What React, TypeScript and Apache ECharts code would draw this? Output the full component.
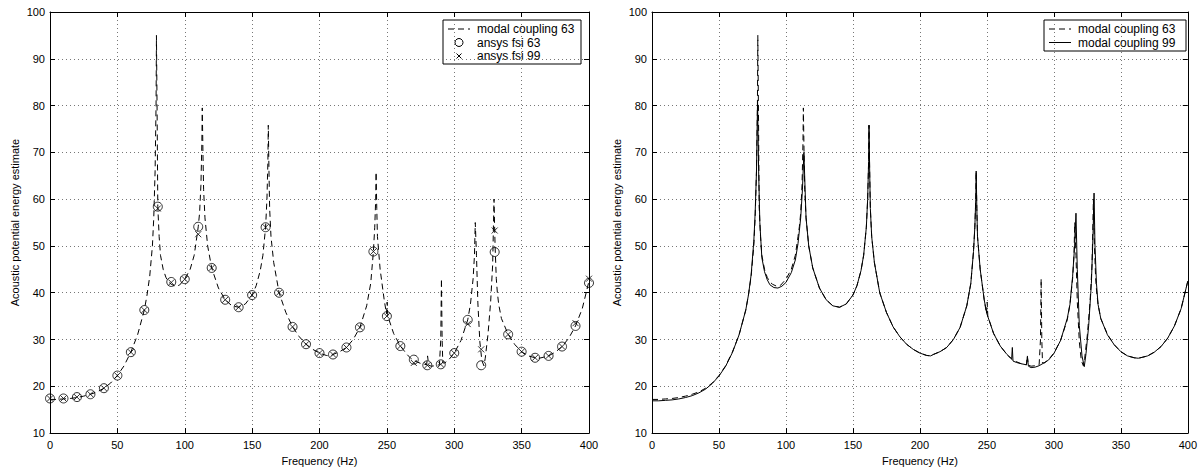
import React, { useEffect, useRef } from "react";
import * as echarts from "echarts";

// ---------- data ----------
const freqMarkers = [0, 10, 20, 30, 40, 50, 60, 70, 80, 90, 100, 110, 120, 130, 140, 150, 160, 170, 180, 190, 200, 210, 220, 230, 240, 250, 260, 270, 280, 290, 300, 310, 320, 330, 340, 350, 360, 370, 380, 390, 400];
const ansysFsi63 = [17.4, 17.4, 17.7, 18.3, 19.6, 22.3, 27.3, 36.3, 58.4, 42.3, 42.9, 54.1, 45.3, 38.5, 36.9, 39.5, 54.0, 40.0, 32.7, 29.0, 27.1, 26.8, 28.3, 32.6, 48.8, 35.0, 28.6, 25.7, 24.5, 24.7, 27.1, 34.2, 24.5, 48.7, 31.1, 27.4, 26.1, 26.5, 28.5, 32.9, 42.1];
const ansysFsi99 = [17.4, 17.4, 17.7, 18.3, 19.6, 22.3, 27.3, 36.3, 58.0, 42.2, 42.9, 52.5, 45.3, 38.5, 36.9, 39.5, 54.0, 40.0, 32.7, 29.0, 27.1, 26.8, 28.3, 32.6, 48.8, 35.0, 28.6, 25.0, 24.5, 24.7, 27.1, 33.3, 27.9, 53.3, 31.1, 27.4, 26.1, 26.5, 28.5, 33.5, 43.0];

const modal63Freq = [0, 5, 10, 15, 20, 25, 30, 35, 40, 45, 50, 55, 60, 65, 70, 72, 74, 76, 77, 78, 78.7, 79, 79.5, 80, 81, 82, 84, 86, 88, 90, 93, 96, 100, 104, 107, 109, 110, 111, 112, 112.7, 113, 113.5, 114, 115, 117, 120, 125, 130, 135, 140, 145, 150, 153, 156, 158, 160, 161, 161.7, 162, 162.5, 163, 164, 166, 170, 175, 180, 185, 190, 195, 200, 205, 208, 210, 215, 220, 225, 230, 235, 238, 240, 241, 241.7, 242, 242.5, 243, 245, 248, 249.7, 250.2, 250.7, 255, 260, 265, 268, 270, 275, 279.5, 280.2, 281, 283, 286, 289, 290, 290.5, 291, 291.5, 293, 296, 300, 305, 310, 312, 314, 315, 315.6, 316.5, 317.5, 319, 320.5, 322, 323, 325, 327, 328.5, 329.5, 330.3, 331.2, 332, 333, 335, 340, 345, 350, 355, 360, 363, 366, 370, 375, 380, 385, 390, 395, 400];
const modal63Val = [17.2, 17.2, 17.3, 17.4, 17.6, 17.9, 18.3, 18.8, 19.6, 20.7, 22.3, 24.4, 27.3, 31.0, 36.3, 39.5, 43.5, 50, 56, 66, 80, 95, 78, 58.4, 52, 48, 45, 43.3, 42.3, 41.8, 41.4, 41.6, 42.9, 45, 48, 52, 54.1, 57, 63, 72, 79.5, 70, 62, 56, 50, 45.3, 41, 38.5, 37.2, 36.9, 37.6, 39.5, 41.5, 44.7, 48, 54, 60, 68, 75.8, 66, 58, 52, 46.5, 40, 35.8, 32.7, 30.6, 29, 27.9, 27.1, 26.6, 26.5, 26.8, 27.4, 28.3, 30, 32.6, 37.2, 42, 48.8, 54, 60, 65.8, 58, 52, 45, 38.5, 35.5, 38, 35, 31.3, 28.6, 26.8, 25.9, 25.5, 24.9, 24.6, 26.5, 24.5, 24.3, 24.4, 24.6, 30, 43, 30, 25, 25, 25.7, 27.1, 29.8, 34.2, 37.5, 43, 48, 55, 48, 38, 29.5, 25.5, 24.4, 26, 31, 38, 46, 60, 50, 43, 40, 37.5, 34.5, 31.1, 28.9, 27.4, 26.5, 26.1, 26.0, 26.2, 26.5, 27.3, 28.5, 30.3, 32.9, 36.6, 42.5];

const modal99Freq = [0, 5, 10, 15, 20, 25, 30, 35, 40, 45, 50, 55, 60, 65, 70, 72, 74, 76, 77, 78, 78.8, 79.6, 80.5, 82, 84, 86, 88, 91, 94, 97, 100, 104, 107, 109, 111, 112.3, 113.4, 114.3, 115, 117, 120, 125, 130, 135, 140, 145, 150, 153, 156, 158, 160, 161, 161.7, 162, 162.5, 163, 164, 166, 170, 175, 180, 185, 190, 195, 200, 205, 208, 210, 215, 220, 225, 230, 235, 238, 240, 241, 241.7, 242, 242.5, 243, 245, 248, 250, 255, 260, 265, 268.5, 269, 269.5, 272, 276, 279.5, 280.2, 281, 283, 286, 289, 292, 296, 300, 305, 310, 312, 314, 315.5, 316.5, 317.5, 319, 321, 322.7, 324, 326, 328, 329.2, 330, 330.7, 331.8, 333, 335, 340, 345, 350, 355, 360, 363, 366, 370, 375, 380, 385, 390, 395, 400];
const modal99Val = [16.9, 16.9, 17.0, 17.1, 17.3, 17.6, 18.0, 18.6, 19.4, 20.6, 22.2, 24.3, 27.2, 31.0, 36.3, 39.5, 43.8, 51, 57, 66, 81, 66, 55, 47.5, 44.5, 42.8, 41.7, 41.1, 41.0, 41.4, 42.2, 44.3, 47, 50.5, 56, 62, 70, 62, 56, 50, 45.3, 41, 38.5, 37.2, 36.9, 37.6, 39.5, 41.5, 44.7, 48, 54, 60, 68, 75.8, 66, 58, 52, 46.5, 40, 35.8, 32.7, 30.6, 29, 27.9, 27.1, 26.6, 26.5, 26.8, 27.4, 28.3, 30, 32.6, 37.2, 42, 48.8, 54, 60, 66, 58, 52, 45, 38.5, 35.5, 31.3, 28.6, 26.8, 25.9, 28.3, 25.4, 25.1, 24.8, 24.6, 26.3, 24.3, 24.0, 24.1, 24.4, 24.9, 25.6, 27, 29.8, 34.5, 37.5, 43.5, 50, 57, 45, 33, 26.5, 24.2, 27, 33, 42, 52, 61.3, 50, 42, 37.5, 34.5, 31, 28.9, 27.4, 26.5, 26.1, 26.0, 26.2, 26.5, 27.3, 28.5, 30.3, 32.9, 36.6, 42.5];

const xTickStep = 50;
const yTickStep = 10;
const xMin = 0, xMax = 400, yMin = 10, yMax = 100;

const FONT = "Liberation Sans, Arial, Helvetica, sans-serif";

const zip = (a: number[], b: number[]) => a.map((v, i) => [v, b[i]]);

const grids = [
  { left: 50, top: 12, width: 539, height: 424 },
  { left: 652, top: 12, width: 538, height: 424 },
];

const CROSS = "path://M0,0L10,10M10,0L0,10";

function makeAxes() {
  const xAxis: any[] = [];
  const yAxis: any[] = [];
  grids.forEach((_, gi) => {
    xAxis.push({
      type: "value", gridIndex: gi, min: xMin, max: xMax, interval: xTickStep,
      position: "bottom",
      name: "Frequency (Hz)", nameLocation: "middle", nameGap: 19,
      nameTextStyle: { fontFamily: FONT, fontSize: 11, color: "#000" },
      axisLine: { show: true, onZero: false, lineStyle: { color: "#000", width: 1 } },
      axisTick: { show: true, inside: true, length: 5, lineStyle: { color: "#000" } },
      axisLabel: { fontFamily: FONT, fontSize: 11, color: "#000", margin: 6 },
      splitLine: { show: true, lineStyle: { color: "#777", width: 1, type: [1, 3] } },
    });
    xAxis.push({
      type: "value", gridIndex: gi, min: xMin, max: xMax, interval: xTickStep,
      position: "top",
      axisLine: { show: true, onZero: false, lineStyle: { color: "#000", width: 1 } },
      axisTick: { show: true, inside: true, length: 5, lineStyle: { color: "#000" } },
      axisLabel: { show: false },
      splitLine: { show: false },
    });
    yAxis.push({
      type: "value", gridIndex: gi, min: yMin, max: yMax, interval: yTickStep,
      position: "left",
      name: "Acoustic potential energy estimate", nameLocation: "middle", nameRotate: 90, nameGap: 30,
      nameTextStyle: { fontFamily: FONT, fontSize: 11, color: "#000" },
      axisLine: { show: true, onZero: false, lineStyle: { color: "#000", width: 1 } },
      axisTick: { show: true, inside: true, length: 5, lineStyle: { color: "#000" } },
      axisLabel: { fontFamily: FONT, fontSize: 11, color: "#000", margin: 5 },
      splitLine: { show: true, lineStyle: { color: "#777", width: 1, type: [1, 3] } },
    });
    yAxis.push({
      type: "value", gridIndex: gi, min: yMin, max: yMax, interval: yTickStep,
      position: "right",
      axisLine: { show: true, onZero: false, lineStyle: { color: "#000", width: 1 } },
      axisTick: { show: true, inside: true, length: 5, lineStyle: { color: "#000" } },
      axisLabel: { show: false },
      splitLine: { show: false },
    });
  });
  return { xAxis, yAxis };
}

function legendGraphic(x: number, y: number, w: number, h: number, rows: { label: string; kind: string }[]) {
  const children: any[] = [
    { type: "rect", shape: { x, y, width: w, height: h }, style: { fill: "#fff", stroke: "#000", lineWidth: 1 } },
  ];
  rows.forEach((r, i) => {
    const cy = y + 9 + i * 13.5;
    if (r.kind === "dash") {
      children.push({ type: "line", shape: { x1: x + 5, y1: cy, x2: x + 27, y2: cy }, style: { stroke: "#000", lineWidth: 1, lineDash: [6, 4] } });
    } else if (r.kind === "solid") {
      children.push({ type: "line", shape: { x1: x + 5, y1: cy, x2: x + 27, y2: cy }, style: { stroke: "#000", lineWidth: 1 } });
    } else if (r.kind === "circle") {
      children.push({ type: "circle", shape: { cx: x + 16, cy, r: 4 }, style: { fill: "none", stroke: "#000", lineWidth: 1 } });
    } else if (r.kind === "cross") {
      children.push({ type: "line", shape: { x1: x + 13.5, y1: cy - 2.5, x2: x + 18.5, y2: cy + 2.5 }, style: { stroke: "#000", lineWidth: 1 } });
      children.push({ type: "line", shape: { x1: x + 13.5, y1: cy + 2.5, x2: x + 18.5, y2: cy - 2.5 }, style: { stroke: "#000", lineWidth: 1 } });
    }
    children.push({ type: "text", x: x + 34, y: cy, style: { text: r.label, fontFamily: FONT, fontSize: 12, fill: "#000", textVerticalAlign: "middle", verticalAlign: "middle" } });
  });
  return { type: "group", children };
}

export default function App() {
  const ref = useRef<HTMLDivElement>(null);
  useEffect(() => {
    if (!ref.current) return;
    const chart = echarts.init(ref.current, undefined, { renderer: "svg" });
    const { xAxis, yAxis } = makeAxes();
    const m63 = zip(modal63Freq, modal63Val);
    const m99 = zip(modal99Freq, modal99Val);
    const option: any = {
      animation: false,
      backgroundColor: "#fff",
      grid: grids.map((g) => ({ ...g, containLabel: false })),
      xAxis,
      yAxis,
      series: [
        {
          name: "modal coupling 63", type: "line", xAxisIndex: 0, yAxisIndex: 0, data: m63,
          showSymbol: false, symbol: "none", lineStyle: { color: "#000", width: 1, type: [6, 4] }, z: 3,
        },
        {
          name: "ansys fsi 63", type: "scatter", xAxisIndex: 0, yAxisIndex: 0, data: zip(freqMarkers, ansysFsi63),
          symbol: "circle", symbolSize: 9, itemStyle: { color: "rgba(0,0,0,0)", borderColor: "#000", borderWidth: 1 }, z: 4,
        },
        {
          name: "ansys fsi 99", type: "scatter", xAxisIndex: 0, yAxisIndex: 0, data: zip(freqMarkers, ansysFsi99),
          symbol: CROSS, symbolSize: 6, itemStyle: { color: "rgba(0,0,0,0)", borderColor: "#000", borderWidth: 1 }, z: 5,
        },
        {
          name: "modal coupling 63 (b)", type: "line", xAxisIndex: 2, yAxisIndex: 2, data: m63,
          showSymbol: false, symbol: "none", lineStyle: { color: "#000", width: 1, type: [6, 4] }, z: 3,
        },
        {
          name: "modal coupling 99", type: "line", xAxisIndex: 2, yAxisIndex: 2, data: m99,
          showSymbol: false, symbol: "none", lineStyle: { color: "#000", width: 1 }, z: 4,
        },
      ],
      graphic: [
        legendGraphic(443, 20, 138, 44, [
          { label: "modal coupling 63", kind: "dash" },
          { label: "ansys fsi 63", kind: "circle" },
          { label: "ansys fsi 99", kind: "cross" },
        ]),
        legendGraphic(1044, 20, 142, 31, [
          { label: "modal coupling 63", kind: "dash" },
          { label: "modal coupling 99", kind: "solid" },
        ]),
      ],
    };
    chart.setOption(option);
    return () => chart.dispose();
  }, []);
  return <div ref={ref} style={{ position: "fixed", left: 0, top: 0, width: 1200, height: 471, background: "#fff" }} />;
}
